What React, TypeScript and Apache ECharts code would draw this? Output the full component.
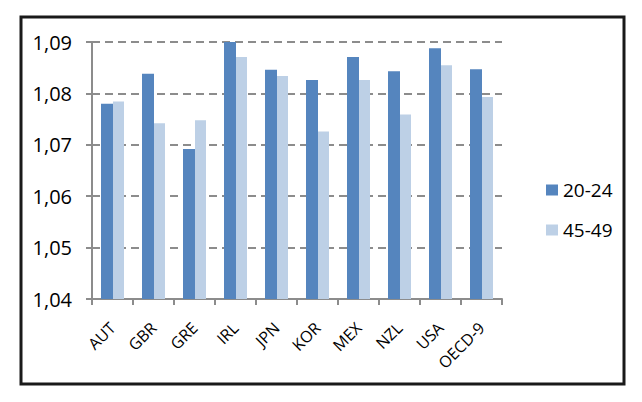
import React, { useEffect, useRef } from "react";
import * as echarts from "echarts";

const categories = ["AUT", "GBR", "GRE", "IRL", "JPN", "KOR", "MEX", "NZL", "USA", "OECD-9"];
const series2024 = [1.078, 1.0838, 1.0692, 1.0901, 1.0846, 1.0826, 1.0871, 1.0843, 1.0888, 1.0847];
const series4549 = [1.0784, 1.0742, 1.0748, 1.0871, 1.0834, 1.0726, 1.0826, 1.0759, 1.0855, 1.0793];
const seriesNames = ["20-24", "45-49"];
const yMin = 1.04;
const yMax = 1.09;
const yStep = 0.01;

const FONT = "Open Sans";

export default function App() {
  const ref = useRef<HTMLDivElement>(null);
  useEffect(() => {
    if (!ref.current) return;
    const chart = echarts.init(ref.current, null, { renderer: "svg" });
    chart.setOption({
      animation: false,
      backgroundColor: "#ffffff",
      graphic: [
        {
          type: "rect",
          shape: { x: 21, y: 17, width: 603, height: 367 },
          style: { fill: "none", stroke: "#1a1a1a", lineWidth: 3 },
          z: 10,
        },
      ],
      grid: { left: 92, right: 140, top: 42, bottom: 103, containLabel: false },
      legend: {
        orient: "vertical",
        left: 541,
        top: 174,
        itemWidth: 12,
        itemHeight: 11,
        itemGap: 18,
        icon: "rect",
        textStyle: { fontSize: 19, color: "#000", fontFamily: FONT, lineHeight: 22 },
        data: seriesNames,
      },
      xAxis: {
        type: "category",
        data: categories,
        axisLine: { lineStyle: { color: "#8c8c8c", width: 2 } },
        axisTick: { show: true, length: 6, lineStyle: { color: "#8c8c8c", width: 2 } },
        axisLabel: {
          show: true,
          rotate: 45,
          interval: 0,
          fontSize: 16,
          color: "#000",
          fontFamily: FONT,
          margin: 26,
        },
      },
      yAxis: {
        type: "value",
        min: yMin,
        max: yMax,
        interval: yStep,
        axisLine: { show: true, lineStyle: { color: "#8c8c8c", width: 2 } },
        axisTick: { show: true, length: 6, lineStyle: { color: "#8c8c8c", width: 2 } },
        axisLabel: {
          fontSize: 20,
          color: "#000",
          fontFamily: FONT,
          margin: 20,
          formatter: (v: number) => v.toFixed(2).replace(".", ","),
        },
        splitLine: {
          show: true,
          lineStyle: { color: "#8c8c8c", width: 2, type: [8, 5] },
        },
      },
      series: [
        {
          name: seriesNames[0],
          type: "bar",
          data: series2024,
          barWidth: 12,
          barGap: "0%",
          itemStyle: { color: "#5585be" },
        },
        {
          name: seriesNames[1],
          type: "bar",
          data: series4549,
          barWidth: 11,
          barGap: "0%",
          itemStyle: { color: "#bdd0e6" },
        },
      ],
    });
    return () => chart.dispose();
  }, []);
  return (
    <div
      ref={ref}
      style={{ position: "fixed", left: 0, top: 0, width: 642, height: 402 }}
    />
  );
}
